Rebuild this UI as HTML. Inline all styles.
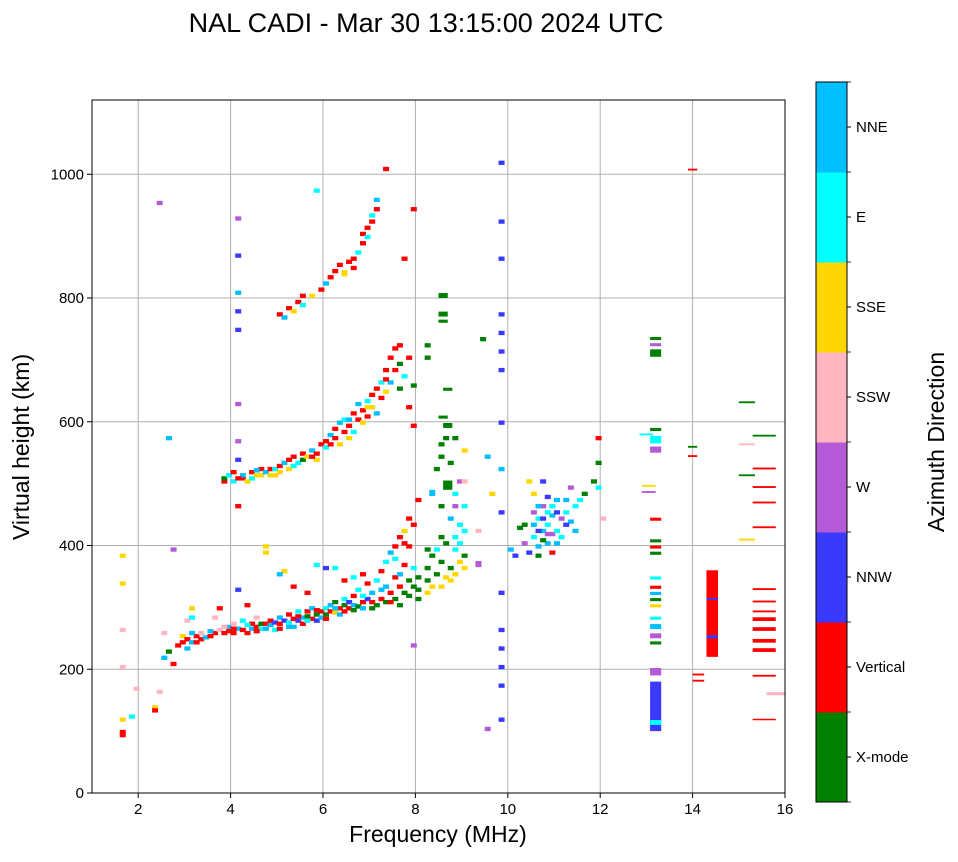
<!DOCTYPE html>
<html><head><meta charset="utf-8"><style>
body{margin:0;background:#fff;font-family:"Liberation Sans",sans-serif}
svg text{font-family:"Liberation Sans",sans-serif;fill:#000}
</style></head><body>
<svg id="chart" width="958" height="857" xmlns="http://www.w3.org/2000/svg">
<text x="426" y="32" font-size="27" text-anchor="middle">NAL CADI - Mar 30 13:15:00 2024 UTC</text>
<g id="grid"></g>
<g id="marks"></g>
<rect x="92" y="100" width="693" height="693" fill="none" stroke="#000" stroke-width="1"/>
<g id="ticks"></g>
<text x="438" y="842" font-size="23" text-anchor="middle">Frequency (MHz)</text>
<text transform="translate(29,447) rotate(-90)" font-size="23" text-anchor="middle">Virtual height (km)</text>
<g id="cbar"></g>
<text transform="translate(944,442) rotate(-90)" font-size="23" text-anchor="middle">Azimuth Direction</text>
</svg>
<script>
const dirNames=["X-mode","Vertical","NNW","W","SSW","SSE","E","NNE"];
const dirColors=["#008000","#ff0000","#3a3aff","#b45ad6","#ffb6c1","#ffd700","#00ffff","#00bfff"];
const xTicks=[2,4,6,8,10,12,14,16];
const yTicks=[0,200,400,600,800,1000];
// [freq MHz, height km, dir index, span km, width MHz]
const hop1=[[1.6,95,1],[1.6,90,1],[1.6,115,5],[1.6,200,4],[1.6,260,4],[1.6,335,5],[1.6,380,5],[1.8,120,6],[1.9,165,4],[2.3,135,5],[2.3,130,1],[2.4,160,4],[2.5,215,7],[2.5,255,4],[2.6,225,0],[2.7,205,1],[2.8,235,1],[2.9,240,1],[2.9,250,5],[3.0,245,1],[3.0,275,4],[3.0,230,7],[3.1,240,7],[3.1,295,5],[3.1,280,6],[3.2,250,1],[3.3,245,1],[3.3,255,4],[3.4,248,7],[3.5,250,1],[3.6,255,1],[3.6,280,4],[3.7,260,4],[3.7,295,1],[3.8,255,1],[3.9,258,1],[3.9,265,7],[4.0,255,1],[4.0,270,4],[4.1,262,7],[4.1,325,2],[4.2,260,1],[4.2,275,6],[4.3,255,1],[4.3,300,1],[4.4,262,7],[4.4,270,1],[4.5,265,1],[4.5,280,4],[4.6,262,6],[4.6,270,0],[4.7,270,1],[4.7,385,5],[4.8,268,7],[4.8,275,1],[4.9,272,2],[4.9,260,6],[5.0,270,1],[5.0,280,7],[5.1,275,2],[5.1,355,5],[5.2,272,6],[5.2,285,1],[5.3,278,1],[5.3,265,7],[5.4,275,2],[5.4,290,6],[5.5,280,7],[5.5,270,1],[5.6,282,0],[5.6,290,1],[5.7,278,1],[5.7,295,7],[5.8,285,0],[5.8,275,2],[5.9,290,1],[5.9,280,7],[6.0,285,0],[6.0,295,6],[6.1,290,1],[6.1,300,7],[6.2,288,5],[6.2,305,0],[6.3,295,1],[6.3,285,7],[6.4,300,0],[6.4,310,6],[6.5,295,1],[6.5,305,2],[6.6,300,7],[6.6,315,1],[6.7,298,0],[6.7,325,6],[6.8,305,1],[6.8,295,7],[6.9,310,2],[6.9,335,1],[7.0,305,1],[7.0,320,7],[7.1,300,0],[7.1,340,6],[7.2,310,1],[7.2,355,1],[7.3,305,0],[7.3,330,7],[7.3,370,6],[7.4,320,1],[7.4,385,7],[7.5,310,0],[7.5,345,1],[7.5,395,1],[7.6,300,0],[7.6,350,7],[7.6,410,1],[7.7,320,0],[7.7,365,1],[7.7,420,5],[7.8,315,0],[7.8,395,1],[7.8,440,1],[7.9,330,0],[7.9,360,6],[7.9,430,1],[8.0,325,0],[8.0,345,0],[8.0,470,1],[8.2,340,0],[8.2,320,5],[8.2,360,0],[8.3,380,0],[8.3,330,5],[8.4,350,0],[8.4,390,6],[8.5,370,0],[8.5,330,5],[8.6,345,5],[8.6,400,0],[8.7,340,5],[8.7,360,0],[8.8,390,6],[8.8,350,5],[8.9,400,6],[8.9,370,5],[9.0,360,5],[9.0,380,0],[9.0,420,6],[9.3,365,3,10],[9.3,420,4],[4.7,395,5],[5.0,350,7],[5.3,330,1],[5.6,320,1],[5.8,365,6],[6.0,360,2],[6.2,360,6],[6.4,340,1],[6.6,345,6],[6.8,350,1],[3.1,255,7],[3.2,240,1],[3.5,258,7],[3.8,265,4],[4.0,262,1],[4.3,268,6],[4.5,258,1],[4.7,262,7],[5.0,262,1],[5.2,265,7],[5.4,282,1],[5.6,275,6],[5.8,292,1],[6.0,278,1],[6.2,295,7],[6.4,290,1],[6.6,292,0],[6.8,315,6],[7.0,295,0],[7.2,325,7],[7.4,305,1],[7.6,330,1],[7.8,340,0],[8.0,310,0],[7.7,400,1],[7.5,375,6]];
const hop2=[[3.8,500,1],[3.8,505,0],[3.9,510,6],[4.0,515,1],[4.0,500,6],[4.2,505,1],[4.2,510,7],[4.3,500,5],[4.4,515,1],[4.4,505,6],[4.5,510,5],[4.6,520,1],[4.6,510,5],[4.7,515,7],[4.8,520,1],[4.8,510,5],[4.9,520,6],[5.0,525,1],[5.0,515,5],[5.1,530,7],[5.2,535,1],[5.2,520,5],[5.3,540,1],[5.4,530,6],[5.5,545,1],[5.5,535,0],[5.6,540,5],[5.7,550,7],[5.8,545,1],[5.8,535,5],[5.9,560,1],[6.0,565,1],[6.0,555,6],[6.1,575,7],[6.2,570,1],[6.2,585,1],[6.3,560,5],[6.3,595,7],[6.4,580,1],[6.4,600,6],[6.5,590,1],[6.5,570,5],[6.6,610,1],[6.6,580,6],[6.7,600,1],[6.7,625,7],[6.8,615,1],[6.8,595,5],[6.9,630,6],[6.9,605,1],[7.0,640,1],[7.0,620,5],[7.1,650,1],[7.1,610,7],[7.2,660,6],[7.2,635,1],[7.3,680,1],[7.3,645,5],[7.4,700,1],[7.4,660,7],[7.5,715,1],[7.5,680,1],[7.6,650,0],[7.6,690,0],[7.7,670,6],[7.8,700,1],[7.8,620,1],[7.9,655,0],[7.9,590,1],[4.1,505,1],[4.5,518,7],[4.9,510,5],[5.3,525,6],[5.7,540,1],[6.1,560,1],[6.5,600,7],[6.9,620,5],[7.3,665,1],[7.6,720,1]];
const hop3=[[5.0,770,1],[5.1,765,7],[5.2,780,1],[5.3,775,5],[5.4,790,1],[5.5,800,1],[5.5,785,6],[5.7,800,5],[5.9,810,1],[6.0,820,7],[6.1,830,1],[6.2,840,1],[6.4,835,5,10],[6.5,855,1],[6.6,860,1],[6.7,870,6],[6.8,885,1],[6.8,900,1],[6.9,895,6],[7.0,920,1],[7.1,940,1],[7.1,955,7],[7.3,1005,1],[7.9,940,1],[7.7,860,1],[6.3,850,1],[6.6,845,1],[6.9,910,1],[7.0,930,6]];
const scattered=[[4.1,925,3],[4.1,865,2],[4.1,805,7],[4.1,775,2],[4.1,745,2],[4.1,625,3],[4.1,565,3],[4.1,535,2],[4.1,460,1],[2.4,950,3],[2.6,570,7],[2.7,390,3],[5.8,970,6],[9.8,1015,2],[9.8,920,2],[9.8,860,2],[9.8,770,2],[9.8,740,2],[9.8,710,2],[9.8,680,2],[9.8,595,2],[9.8,520,7],[9.8,450,2],[9.8,320,2],[9.8,260,2],[9.8,230,2],[9.8,200,2],[9.8,170,2],[9.8,115,2],[9.5,100,3],[7.9,235,3],
[8.2,720,0],[8.2,700,0],[8.5,800,0,8,0.2],[8.5,770,0,8,0.2],[8.5,760,0,5,0.2],[8.6,650,0,5,0.2],[8.5,605,0,5,0.2],[8.6,590,0,8,0.2],[8.6,570,0],[8.5,560,0],[8.5,540,0],[8.4,520,0],[8.6,490,0,15,0.2],[8.8,480,6],[8.9,500,3],[8.8,460,3],[8.7,440,7],[8.9,430,6],[9.0,460,6],[8.5,460,0],[8.3,480,7,10],[8.2,390,0],[8.5,410,0],[8.8,410,6],[9.0,500,4],[8.7,530,0],[8.8,570,0],[9.0,550,5],[9.4,730,0],[9.5,540,7],[9.6,480,5]];
const cluster=[[10.0,390,7],[10.1,380,2],[10.2,425,0],[10.3,430,0],[10.3,400,3],[10.4,385,2],[10.4,500,5],[10.5,480,5],[10.5,410,6],[10.6,395,7],[10.6,440,6],[10.6,380,0],[10.7,420,7],[10.7,460,3],[10.7,500,2],[10.8,430,6],[10.8,400,7],[10.8,475,2],[10.9,415,3],[10.9,445,7],[10.9,385,1],[11.0,420,6],[11.0,470,7],[11.1,440,3],[11.1,410,6],[11.2,450,6],[11.2,470,7],[11.3,435,7],[11.3,490,3],[11.4,460,6],[11.4,420,7],[11.5,470,6],[11.6,480,0],[11.8,500,0],[11.9,490,6],[11.9,530,0],[11.9,570,1],[12.0,440,4],[10.6,420,2],[10.7,440,2],[10.5,450,3],[11.0,450,2],[10.9,460,6],[10.6,460,7],[10.7,405,0],[10.8,415,3],[11.0,400,7],[11.2,430,2],[10.5,430,7],[10.8,450,6]];
const highFreq=[[13.08,100,2,80,0.24],[13.08,110,6,8,0.24],[13.08,190,3,12,0.24],[13.08,240,0,5,0.24],[13.08,250,3,8,0.24],[13.08,265,7,8,0.24],[13.08,280,6,5,0.24],[13.08,300,5,5,0.24],[13.08,310,0,5,0.24],[13.08,320,7,5,0.24],[13.08,330,1,5,0.24],[13.08,345,6,5,0.24],[13.08,385,0,5,0.24],[13.08,395,1,5,0.24],[13.08,405,0,5,0.24],[13.08,440,1,5,0.24],[13.08,550,3,10,0.24],[13.08,565,6,12,0.24],[13.08,585,0,5,0.24],[13.08,705,0,12,0.24],[13.08,722,3,5,0.24],[13.08,732,0,5,0.24],[12.85,578,6,3,0.3],[12.9,495,5,3,0.3],[12.9,485,3,3,0.3],
[14.3,220,1,140,0.25],[14.3,250,2,5,0.25],[14.3,312,2,3,0.25],[13.9,1006,1,3,0.2],[13.9,558,0,3,0.2],[13.9,543,1,3,0.2],[14.0,190,1,3,0.25],[14.0,180,1,3,0.25],[15.0,630,0,3,0.35],[15.0,562,4,3,0.35],[15.0,512,0,3,0.35],[15.0,408,5,3,0.35],[15.3,118,1,2,0.5],[15.3,188,1,3,0.5],[15.3,228,1,6,0.5],[15.3,243,1,6,0.5],[15.3,262,1,6,0.5],[15.3,278,1,6,0.5],[15.3,292,1,3,0.5],[15.3,308,1,3,0.5],[15.3,328,1,3,0.5],[15.3,428,1,3,0.5],[15.3,468,1,3,0.5],[15.3,493,1,3,0.5],[15.3,523,1,3,0.5],[15.3,576,0,3,0.5],[15.6,158,4,5,0.4]];

const X0=92,X1=785,Y0=793,Y1=100,FMIN=1,FMAX=16,HMIN=0,HMAX=1120;
const xs=f=>X0+(f-FMIN)/(FMAX-FMIN)*(X1-X0);
const ys=h=>Y0-(h-HMIN)/(HMAX-HMIN)*(Y0-Y1);
const NS="http://www.w3.org/2000/svg";
function mk(tag,attrs,parent){const e=document.createElementNS(NS,tag);for(const k in attrs)e.setAttribute(k,attrs[k]);parent.appendChild(e);return e;}
const grid=document.getElementById('grid'),ticks=document.getElementById('ticks'),marks=document.getElementById('marks'),cbar=document.getElementById('cbar');
xTicks.forEach(t=>{const x=xs(t);
 const g=mk('line',{x1:x,x2:x,y1:Y1,y2:Y0,stroke:'#b0b0b0','stroke-width':1},grid);
 
 mk('line',{x1:x,x2:x,y1:Y0,y2:Y0+5,stroke:'#000'},ticks);
 const tx=mk('text',{x:x,y:Y0+21,'font-size':15,'text-anchor':'middle'},ticks);tx.textContent=t;
 });
yTicks.forEach(t=>{const y=ys(t);
 const g=mk('line',{x1:X0,x2:X1,y1:y,y2:y,stroke:'#b0b0b0','stroke-width':1},grid);
 
 mk('line',{x1:X0-5,x2:X0,y1:y,y2:y,stroke:'#000'},ticks);
 const tx=mk('text',{x:X0-8,y:y+5,'font-size':15,'text-anchor':'end'},ticks);tx.textContent=t;
 });
[hop1,hop2,hop3,scattered,cluster,highFreq].forEach(set=>set.forEach(p=>{
 const f=p[0],h=p[1],d=p[2],s=p[3]||7,w=p[4]||0.13;
 const x=xs(f),y=ys(h+s);
 const r=mk('rect',{x:x,y:y,width:Math.max(1,xs(f+w)-x),height:Math.max(1.5,ys(h)-y),fill:dirColors[d]},marks);
 
 }));
const CX=816,CW=31,CT=82,CB=802,seg=(CB-CT)/dirNames.length;
dirNames.forEach((n,i)=>{const y=CB-(i+1)*seg;
 const r=mk('rect',{x:CX,y:y,width:CW,height:seg+0.5,fill:dirColors[i]},cbar);
 
 mk('line',{x1:CX+CW,x2:CX+CW+4,y1:y+seg/2,y2:y+seg/2,stroke:'#000'},cbar);
 const t=mk('text',{x:CX+CW+9,y:y+seg/2+5,'font-size':15},cbar);t.textContent=n;
 });
for(let i=0;i<=dirNames.length;i++){const y=CB-i*seg;mk('line',{x1:CX+CW,x2:CX+CW+4,y1:y,y2:y,stroke:'#000','stroke-width':0.8},cbar);}
mk('rect',{x:CX,y:CT,width:CW,height:CB-CT,fill:'none',stroke:'#000','stroke-width':1},cbar);
</script>
</body></html>
